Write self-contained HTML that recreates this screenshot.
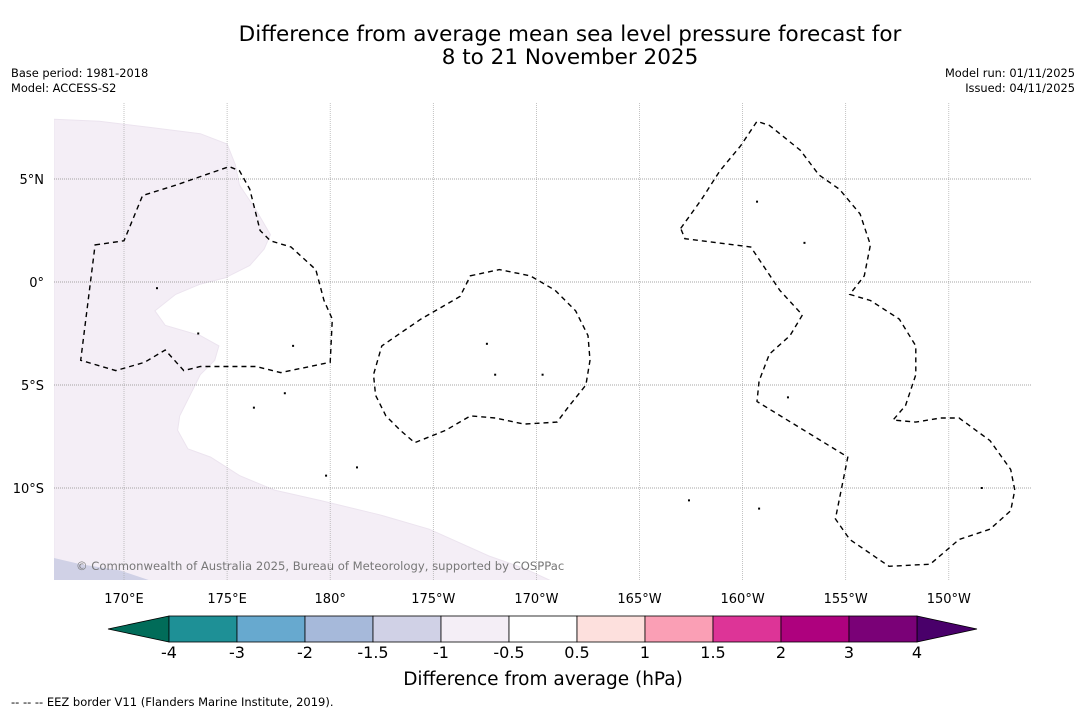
<!DOCTYPE html>
<html><head><meta charset="utf-8"><style>
html,body{margin:0;padding:0;background:#fff;}
svg{display:block;font-family:"DejaVu Sans","Liberation Sans",sans-serif;}
</style></head><body>
<svg id="chart" width="1085" height="713" viewBox="0 0 1085 713">
<text x="570" y="41" font-size="21.5" text-anchor="middle">Difference from average mean sea level pressure forecast for</text>
<text x="570" y="64" font-size="21.5" text-anchor="middle">8 to 21 November 2025</text>
<text x="11" y="77" font-size="11.4">Base period: 1981-2018</text>
<text x="11" y="92" font-size="11.4">Model: ACCESS-S2</text>
<text x="1075" y="77" font-size="11.4" text-anchor="end">Model run: 01/11/2025</text>
<text x="1075" y="92" font-size="11.4" text-anchor="end">Issued: 04/11/2025</text>
<g id="map"></g>
<g id="cbar"></g>
<text x="543" y="685" font-size="18.5" text-anchor="middle">Difference from average (hPa)</text>
<text x="11" y="706" font-size="11.5">--  --  -- EEZ border V11 (Flanders Marine Institute, 2019).</text>
</svg>
<script>
// ---- data ----
const lonTicks = [170,175,180,185,190,195,200,205,210];
const lonTickLabels = ["170°E","175°E","180°","175°W","170°W","165°W","160°W","155°W","150°W"];
const latTicks = [5,0,-5,-10];
const latTickLabels = ["5°N","0°","5°S","10°S"];
const levels = [-4,-3,-2,-1.5,-1,-0.5,0.5,1,1.5,2,3,4];
const levelLabels = ["-4","-3","-2","-1.5","-1","-0.5","0.5","1","1.5","2","3","4"];
const levelColors = ["#1e9096","#67a9cf","#a6b9da","#d0d1e6","#f4eef6","#ffffff","#fde0dd","#fa9fb5","#dd3497","#ae017e","#7a0177"];
const underColor = "#016c59", overColor = "#49006a";
const anomLon = [166.6,168.8,171.3,173.7,175.0,175.4,175.6,176.4,177.1,176.8,176.1,174.9,173.7,172.5,171.5,172.0,173.7,174.6,174.4,173.7,173.2,172.7,172.6,173.1,174.2,175.6,177.3,179.5,182.4,184.8,187.7,189.4,190.7,166.6];
const anomLat = [7.9,7.8,7.5,7.2,6.7,5.7,4.7,3.5,2.3,1.6,0.8,0.2,-0.1,-0.6,-1.4,-2.1,-2.6,-3.1,-3.8,-4.5,-5.5,-6.5,-7.2,-8.1,-8.5,-9.4,-10.1,-10.6,-11.3,-12.0,-13.3,-13.9,-14.5,-14.5];
const anom2Lon = [166.6,167.9,169.8,171.3,166.6];
const anom2Lat = [-13.4,-13.7,-14.0,-14.5,-14.5];
const eez1Lon = [168.6,170.0,170.9,172.5,175.1,175.6,176.1,176.6,177.1,178.1,179.3,179.7,180.1,180.0,177.6,176.4,173.7,172.9,172.0,171.0,169.6,167.9];
const eez1Lat = [1.8,2.0,4.2,4.7,5.6,5.4,4.5,2.5,2.0,1.7,0.6,-0.9,-1.8,-3.9,-4.4,-4.1,-4.1,-4.3,-3.3,-3.9,-4.3,-3.8];
const eez2Lon = [186.8,188.2,189.7,190.9,191.9,192.5,192.6,192.4,191.6,191.0,189.4,188.0,186.8,185.6,184.1,183.4,182.7,182.2,182.1,182.5,184.4,186.3];
const eez2Lat = [0.3,0.6,0.3,-0.4,-1.4,-2.6,-3.8,-5.0,-6.0,-6.8,-6.9,-6.6,-6.5,-7.2,-7.8,-7.2,-6.5,-5.5,-4.5,-3.1,-1.8,-0.7];
const eez3Lon = [197.0,198.0,198.9,199.9,200.7,201.3,202.8,203.7,204.7,205.7,206.2,205.9,205.2,206.2,207.6,208.4,208.4,207.9,207.3,208.4,209.6,210.5,212.0,213.0,213.2,213.0,212.0,210.5,209.1,207.1,205.2,204.5,205.1,200.7,200.8,201.3,202.3,202.9,201.8,200.4,198.0,197.2];
const eez3Lat = [2.6,4.0,5.4,6.6,7.8,7.6,6.4,5.2,4.5,3.3,1.8,0.3,-0.6,-0.9,-1.8,-3.1,-4.5,-6.0,-6.7,-6.8,-6.6,-6.6,-7.7,-9.1,-10.1,-11.1,-12.0,-12.5,-13.7,-13.8,-12.5,-11.5,-8.5,-5.8,-4.8,-3.5,-2.6,-1.6,-0.4,1.7,2.0,2.1];
const islandLon = [171.6,173.6,176.3,177.8,179.8,187.6,188.0,190.3,178.2,181.3,197.4,200.7,203.0,211.6,200.8,202.2];
const islandLat = [-0.3,-2.5,-6.1,-5.4,-9.4,-3.0,-4.5,-4.5,-3.1,-9.0,-10.6,3.9,1.9,-10.0,-11.0,-5.6];

// ---- axes ----
const X0=54,X1=1031,Y0=103,Y1=580;
const xS = lon => 124 + (lon-170)*20.62;
const yS = lat => 282 - lat*20.6;
const NS="http://www.w3.org/2000/svg";
function mk(tag,attrs,parent){const e=document.createElementNS(NS,tag);for(const k in attrs)e.setAttribute(k,attrs[k]);parent.appendChild(e);return e;}
const map=document.getElementById('map');
const defs=mk('defs',{},map);
const cp=mk('clipPath',{id:'mc'},defs);
mk('rect',{x:X0,y:Y0,width:X1-X0,height:Y1-Y0},cp);
const inner=mk('g',{'clip-path':'url(#mc)'},map);
function pts(lons,lats){return lons.map((l,i)=>xS(l).toFixed(1)+','+yS(lats[i]).toFixed(1)).join(' ');}
let p=mk('polygon',{points:pts(anomLon,anomLat),fill:'#f4eef6',stroke:'#ece4ef','stroke-width':1},inner);


p=mk('polygon',{points:pts(anom2Lon,anom2Lat),fill:'#d0d1e6'},inner);


lonTicks.forEach((l,i)=>{
  const g=mk('line',{x1:xS(l),x2:xS(l),y1:Y0,y2:Y1,stroke:'#aaa','stroke-width':0.7,'stroke-dasharray':'1,1'},inner);
  
  
  const t=mk('text',{x:xS(l),y:603,'font-size':13,'text-anchor':'middle'},map);
  t.textContent=lonTickLabels[i];
  
  
});
latTicks.forEach((l,i)=>{
  const g=mk('line',{x1:X0,x2:X1,y1:yS(l),y2:yS(l),stroke:'#888','stroke-width':0.7,'stroke-dasharray':'1,1'},inner);
  
  
  const t=mk('text',{x:44,y:yS(l)+5,'font-size':13,'text-anchor':'end'},map);
  t.textContent=latTickLabels[i];
  
  
});
[[eez1Lon,eez1Lat],[eez2Lon,eez2Lat],[eez3Lon,eez3Lat]].forEach((e,i)=>{
  const q=mk('polygon',{points:pts(e[0],e[1]),fill:'none',stroke:'#000','stroke-width':1.4,'stroke-dasharray':'5,4'},inner);
  
  
});
islandLon.forEach((l,i)=>{
  const c=mk('rect',{x:xS(l)-1,y:yS(islandLat[i])-1,width:2,height:2,fill:'#000'},inner);
  
  
});
const cr=mk('text',{x:76,y:570,'font-size':11.6,fill:'#777'},map);
cr.textContent='© Commonwealth of Australia 2025, Bureau of Meteorology, supported by COSPPac';



// ---- colorbar ----
const cb=document.getElementById('cbar');
const CB0=169,CBW=68,CBY=616,CBH=26;
const cx=i=>CB0+i*CBW;
const n=levels.length-1;
let tri=mk('polygon',{points:`108,${CBY+CBH/2} ${CB0},${CBY} ${CB0},${CBY+CBH}`,fill:underColor,stroke:'#000','stroke-width':0.8},cb);


tri=mk('polygon',{points:`${cx(n)},${CBY} 977,${CBY+CBH/2} ${cx(n)},${CBY+CBH}`,fill:overColor,stroke:'#000','stroke-width':0.8},cb);


for(let i=0;i<n;i++){
  const r=mk('rect',{x:cx(i),y:CBY,width:CBW,height:CBH,fill:levelColors[i],stroke:'#000','stroke-width':0.8},cb);
  
  
}
levels.forEach((v,i)=>{
  const t=mk('text',{x:cx(i),y:658,'font-size':16,'text-anchor':'middle'},cb);
  t.textContent=levelLabels[i];
  
  
});
</script>
</body></html>
